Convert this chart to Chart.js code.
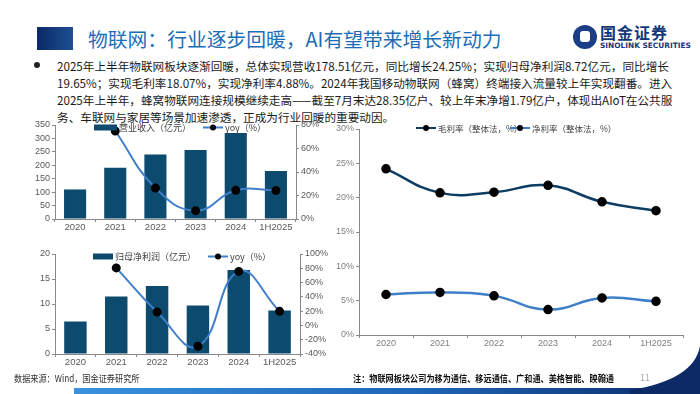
<!DOCTYPE html>
<html>
<head>
<meta charset="utf-8">
<script src="https://cdn.jsdelivr.net/npm/chart.js@4.4.1/dist/chart.umd.min.js"></script>
<style>
body{margin:0;width:700px;height:394px;overflow:hidden;background:#fff;position:relative;font-family:"Noto Sans CJK SC",sans-serif}
.abs{position:absolute}
#title{left:88px;top:25px;font-size:19.8px;color:#1d6db5;white-space:nowrap;line-height:28px}
#sq{left:37px;top:27px;width:36px;height:23px;background:linear-gradient(90deg,#0b2a66,#1d4f91)}
.ln{position:absolute;left:57px;font-size:12px;line-height:17px;color:#1a1a1a;white-space:nowrap}
#bullet{left:34px;top:62px;width:6px;height:6px;border-radius:50%;background:#222}
canvas{position:absolute}
#src{left:14px;top:371px;font-size:9.6px;color:#333;white-space:nowrap;transform:scaleX(0.85);transform-origin:left}
#note{left:353px;top:371px;font-size:9.6px;color:#111;font-weight:bold;white-space:nowrap;transform:scaleX(0.85);transform-origin:left}
#page{left:640px;top:371px;font-size:9px;color:#a8a8a8}
#stripe{left:74px;top:388px;width:626px;height:6px;background:linear-gradient(90deg,#3a92dc,#1f66b8 55%,#0b2a66)}
#logoA{left:600px;top:22px;font-size:16px;font-weight:bold;color:#16387a;letter-spacing:1px;white-space:nowrap;line-height:20px}
#logoB{left:600px;top:41px;font-size:7.4px;font-weight:bold;color:#16387a;white-space:nowrap;font-family:"DejaVu Sans",sans-serif;line-height:9px}
#icon{left:573px;top:25px;width:24px;height:24px;border-radius:50%;background:#1a3f86}
#icon div{position:absolute;left:7px;top:6px;width:10px;height:11px;border-radius:3px;background:#fff}
</style>
</head>
<body>
<div id="sq" class="abs"></div>
<div id="title" class="abs">物联网：行业逐步回暖，AI有望带来增长新动力</div>
<div id="icon" class="abs"><div></div></div>
<div id="logoA" class="abs">国金证券</div>
<div id="logoB" class="abs">SINOLINK SECURITIES</div>

<div id="bullet" class="abs"></div>
<div class="ln" id="l1" style="top:57px">2025年上半年物联网板块逐渐回暖，总体实现营收178.51亿元，同比增长24.25%；实现归母净利润8.72亿元，同比增长</div>
<div class="ln" style="top:74px">19.65%；实现毛利率18.07%，实现净利率4.88%。2024年我国移动物联网（蜂窝）终端接入流量较上年实现翻番。进入</div>
<div class="ln" style="top:91px">2025年上半年，蜂窝物联网连接规模继续走高——截至7月末达28.35亿户、较上年末净增1.79亿户，体现出AIoT在公共服</div>
<div class="ln" style="top:108px">务、车联网与家居等场景加速渗透，正成为行业回暖的重要动因。</div>

<canvas id="c1" width="310" height="124" style="left:14px;top:117px"></canvas>
<canvas id="c2" width="314" height="126" style="left:14px;top:246px"></canvas>
<canvas id="c3" width="380" height="236" style="left:320px;top:120px"></canvas>

<div id="src" class="abs">数据来源：Wind，国金证券研究所</div>
<div id="note" class="abs">注：物联网板块公司为移为通信、移远通信、广和通、美格智能、映翰通</div>
<div id="page" class="abs">11</div>
<div id="stripe" class="abs"></div>
<svg class="abs" style="left:600px;top:338px" width="100" height="56"><path d="M100,8 Q94,42 30,52 L30,56 L100,56 Z" fill="#0b2a66"/></svg>

<script>
const years = ['2020', '2021', '2022', '2023', '2024', '1H2025'];
const revenue = [110, 191, 240, 257, 320, 178.5];
const revenueYoy = [null, 74.9, 26.4, 7.1, 24.4, 24.3];
const profit = [6.5, 11.5, 13.6, 9.7, 16.8, 8.7];
const profitYoy = [null, 80.5, 18.7, -29.2, 75.6, 19.7];
const grossMargin = [24.2, 20.7, 20.8, 21.8, 19.4, 18.1];
const netMargin = [5.9, 6.2, 5.7, 3.7, 5.4, 4.9];

const barColor = '#0c4a6e';
const yoyColor = '#3f7fca';
const grossColor = '#0d3d62';

// shrink body text so the first line fits the slide's line width
const l1 = document.getElementById('l1');
const fs = 12 * 613 / l1.getBoundingClientRect().width;
document.querySelectorAll('.ln').forEach(el => { el.style.fontSize = fs + 'px'; });

Chart.defaults.font.family = 'Arial, "Liberation Sans", "Noto Sans CJK SC"';
Chart.defaults.animation = false;

// legend drawn inside the plot, like the slide
const inlineLegend = {
  id: 'inlineLegend',
  afterDraw(chart, args, opts) {
    const ctx = chart.ctx;
    ctx.save();
    ctx.textBaseline = 'middle';
    ctx.font = opts.fontSize + 'px "Noto Sans CJK SC"';
    opts.items.forEach(it => {
      const ds = chart.data.datasets[it.ds];
      const y = opts.y;
      if (it.box) {
        ctx.fillStyle = ds.backgroundColor;
        ctx.fillRect(it.x, y - 3, it.w, 6);
      } else {
        ctx.strokeStyle = ds.borderColor;
        ctx.lineWidth = 2;
        ctx.beginPath();
        ctx.moveTo(it.x, y);
        ctx.lineTo(it.x + it.w, y);
        ctx.stroke();
        ctx.fillStyle = '#000';
        ctx.beginPath();
        ctx.arc(it.x + it.w / 2, y, 3, 0, Math.PI * 2);
        ctx.fill();
      }
      ctx.fillStyle = '#404040';
      ctx.fillText(ds.label, it.x + it.w + 2, y + 0.5);
    });
    ctx.restore();
  }
};

const axisX = (h, color, size) => ({
  offset: true,
  grid: { offset: true, drawOnChartArea: false, tickLength: 3, color: '#888' },
  border: { color: '#888' },
  ticks: { color: color, font: { size: size }, padding: 0, maxRotation: 0, autoSkip: false },
  afterFit: s => { s.height = h; }
});

const axisY = (pos, w, min, max, step, suffix, color, size) => ({
  position: pos,
  min: min, max: max,
  grid: { drawOnChartArea: false, tickLength: 3, color: '#888' },
  border: { color: '#888' },
  ticks: { stepSize: step, color: color, font: { size: size }, padding: 2, autoSkip: false,
    callback: v => v + suffix },
  afterFit: s => { s.width = w; }
});

const lineStyle = {
  type: 'line', borderWidth: 2, tension: 0.45,
  pointRadius: 3.5, pointBackgroundColor: '#000', pointBorderColor: '#000',
  yAxisID: 'y1', order: 1
};

new Chart(document.getElementById('c1'), {
  type: 'bar',
  data: {
    labels: years,
    datasets: [
      { label: '营业收入（亿元）', data: revenue, backgroundColor: barColor,
        barPercentage: 0.55, categoryPercentage: 1, yAxisID: 'y', order: 2 },
      Object.assign({ label: 'yoy（%）', data: revenueYoy, borderColor: yoyColor }, lineStyle)
    ]
  },
  options: {
    responsive: false,
    layout: { padding: { top: 8, left: 0, right: 0, bottom: 0 } },
    plugins: {
      legend: { display: false }, tooltip: { enabled: false },
      inlineLegend: { y: 10.5, fontSize: 9, items: [{ ds: 0, x: 80, w: 23, box: true }, { ds: 1, x: 189, w: 20 }] }
    },
    scales: {
      x: axisX(22, '#595959', 9.5),
      y: axisY('left', 41, 0, 350, 50, '', '#595959', 9),
      y1: axisY('right', 28, 0, 80, 20, '%', '#595959', 9)
    }
  },
  plugins: [inlineLegend]
});

new Chart(document.getElementById('c2'), {
  type: 'bar',
  data: {
    labels: years,
    datasets: [
      { label: '归母净利润（亿元）', data: profit, backgroundColor: barColor,
        barPercentage: 0.55, categoryPercentage: 1, yAxisID: 'y', order: 2 },
      Object.assign({ label: 'yoy（%）', data: profitYoy, borderColor: yoyColor }, lineStyle)
    ]
  },
  options: {
    responsive: false,
    layout: { padding: { top: 8, left: 0, right: 0, bottom: 0 } },
    plugins: {
      legend: { display: false }, tooltip: { enabled: false },
      inlineLegend: { y: 10.5, fontSize: 9, items: [{ ds: 0, x: 79, w: 20, box: true }, { ds: 1, x: 194, w: 20 }] }
    },
    scales: {
      x: axisX(18, '#595959', 9.5),
      y: axisY('left', 41, 0, 20, 5, '', '#595959', 9),
      y1: axisY('right', 28, -40, 100, 20, '%', '#595959', 9)
    }
  },
  plugins: [inlineLegend]
});

new Chart(document.getElementById('c3'), {
  type: 'line',
  data: {
    labels: years,
    datasets: [
      Object.assign({}, lineStyle, { label: '毛利率（整体法，%）', data: grossMargin, borderColor: grossColor, borderWidth: 2.5, yAxisID: 'y' }),
      Object.assign({}, lineStyle, { label: '净利率（整体法，%）', data: netMargin, borderColor: yoyColor, borderWidth: 2.5, yAxisID: 'y' })
    ]
  },
  options: {
    responsive: false,
    layout: { padding: { top: 9, left: 0, right: 17, bottom: 0 } },
    plugins: {
      legend: { display: false }, tooltip: { enabled: false },
      inlineLegend: { y: 8, fontSize: 8.5, items: [{ ds: 0, x: 96, w: 20 }, { ds: 1, x: 190, w: 20 }] }
    },
    scales: {
      x: axisX(21, '#7f7f7f', 9),
      y: axisY('left', 39, 0, 30, 5, '%', '#7f7f7f', 9)
    }
  },
  plugins: [inlineLegend]
});
</script>
</body>
</html>
